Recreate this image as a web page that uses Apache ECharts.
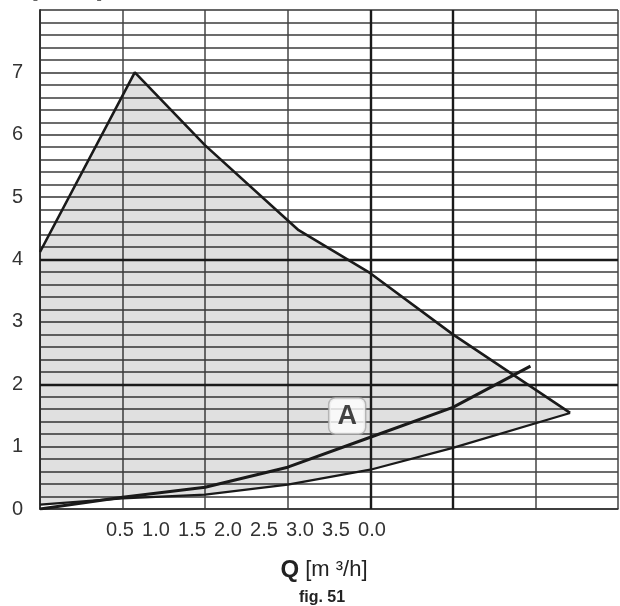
<!DOCTYPE html>
<html>
<head>
<meta charset="utf-8">
<script src="https://cdn.jsdelivr.net/npm/echarts@6/dist/echarts.min.js"></script>
<style>
  html, body { margin: 0; padding: 0; background: #fff; }
  #chart { width: 620px; height: 606px; }
</style>
</head>
<body>
<div id="chart"></div>
<script>
// tick labels (the x row is printed shifted, as in the figure)
var xTickLabels = ['0.5', '1.0', '1.5', '2.0', '2.5', '3.0', '3.5', '0.0'];
var yTickLabels = ['0', '1', '2', '3', '4', '5', '6', '7'];

// envelope of the pump field, Q [m3/h] / H [m H2O]
var upperQ = [0, 0.574, 1.0, 1.566, 2.0, 2.5, 3.21];
var upperH = [4.12, 7.0, 5.83, 4.47, 3.78, 2.8, 1.54];
var lowerQ = [0, 0.5, 1.0, 1.5, 2.0, 2.5, 3.21];
var lowerH = [0.07, 0.17, 0.23, 0.39, 0.63, 0.98, 1.54];

// system curve A
var curveAQ = [0, 0.5, 1.0, 1.5, 2.0, 2.5, 2.97];
var curveAH = [0, 0.19, 0.35, 0.67, 1.15, 1.63, 2.29];
var labelA = [1.86, 1.49];

// heavier grid lines
var boldQ = [2.0, 2.5];
var boldH = [2, 4];

function zip(a, b) {
  return a.map(function (v, i) { return [v, b[i]]; });
}

var upperPts = zip(upperQ, upperH);
var lowerPts = zip(lowerQ, lowerH);
var fieldPts = upperPts.concat(lowerPts.slice(0, -1).reverse());

var chart = echarts.init(document.getElementById('chart'));

var markData = boldQ.map(function (q) { return { xAxis: q }; })
  .concat(boldH.map(function (h) { return { yAxis: h }; }));

chart.setOption({
  animation: false,
  backgroundColor: '#fff',
  textStyle: { fontFamily: 'Liberation Sans, Arial, sans-serif' },
  grid: [
    { left: 40, right: 2, top: 10, bottom: 97 },
    { left: 102, width: 288, top: 10, bottom: 97 }
  ],
  xAxis: [
    {
      type: 'value', gridIndex: 0, min: 0, max: 3.5, interval: 0.5,
      axisLine: { show: true, lineStyle: { color: '#333', width: 1.5 } },
      axisTick: { show: false },
      axisLabel: { show: false },
      splitLine: { show: true, lineStyle: { color: '#444', width: 1.5 } }
    },
    {
      type: 'category', gridIndex: 1, data: xTickLabels,
      axisLine: { show: false },
      axisTick: { show: false },
      splitLine: { show: false },
      axisLabel: { interval: 0, fontSize: 20, color: '#333', margin: 11 }
    }
  ],
  yAxis: [
    {
      type: 'value', gridIndex: 0, min: 0, max: 8, interval: 1,
      axisLine: { show: true, lineStyle: { color: '#333', width: 2 } },
      axisTick: { show: false },
      minorTick: { show: false, splitNumber: 5 },
      minorSplitLine: { show: true, lineStyle: { color: '#3c3c3c', width: 1.5 } },
      splitLine: { show: true, lineStyle: { color: '#333', width: 1.6 } },
      axisLabel: {
        fontSize: 20, color: '#333', margin: 17,
        formatter: function (v) {
          var i = Math.round(v);
          return Math.abs(v - i) < 1e-6 && yTickLabels[i] !== undefined ? yTickLabels[i] : '';
        }
      }
    },
    { type: 'value', gridIndex: 1, show: false, min: 0, max: 8 }
  ],
  series: [
    {
      type: 'custom',
      xAxisIndex: 0, yAxisIndex: 0,
      silent: true,
      data: fieldPts,
      renderItem: function (params, api) {
        if (params.dataIndex !== 0) return null;
        return {
          type: 'polygon',
          shape: { points: fieldPts.map(function (p) { return api.coord(p); }) },
          style: { fill: 'rgba(0,0,0,0.12)' }
        };
      },
      markLine: {
        silent: true,
        symbol: 'none',
        label: { show: false },
        lineStyle: { color: '#1a1a1a', width: 2.4, type: 'solid' },
        data: markData
      }
    },
    {
      type: 'line', data: upperPts, showSymbol: false, silent: true,
      lineStyle: { color: '#1a1a1a', width: 2.6 }
    },
    {
      type: 'line', data: lowerPts, showSymbol: false, silent: true,
      lineStyle: { color: '#1a1a1a', width: 2.2 }
    },
    {
      type: 'line', data: zip(curveAQ, curveAH), showSymbol: false, silent: true,
      lineStyle: { color: '#1a1a1a', width: 3 }
    },
    {
      type: 'scatter', data: [labelA], symbolSize: 1, silent: true,
      itemStyle: { color: 'rgba(0,0,0,0)' },
      label: {
        show: true, position: 'inside', formatter: 'A',
        fontSize: 27, fontWeight: 'bold', color: '#151515',
        backgroundColor: '#fff', borderColor: '#aaa', borderWidth: 1.5,
        borderRadius: 6, padding: [5, 8, 3, 8]
      }
    }
  ],
  graphic: [
    {
      type: 'text', x: 12, y: 1, silent: true,
      style: {
        text: 'H [m H{s|2}O]',
        fill: '#666', fontSize: 20, fontFamily: 'Liberation Sans',
        align: 'left', verticalAlign: 'bottom',
        rich: { s: { fontSize: 13, fill: '#666' } }
      }
    },
    {
      type: 'text', x: 324, y: 570, silent: true,
      style: {
        text: '{q|Q} [m \u00b3/h]',
        fill: '#222', fontSize: 22, fontFamily: 'Liberation Sans',
        align: 'center', verticalAlign: 'middle',
        rich: { q: { fontSize: 24, fontWeight: 'bold', fill: '#222' } }
      }
    },
    {
      type: 'text', x: 322, y: 598, silent: true,
      style: {
        text: 'fig. 51',
        fill: '#222', fontSize: 16, fontWeight: 'bold', fontFamily: 'Liberation Sans',
        align: 'center', verticalAlign: 'middle'
      }
    }
  ]
});
</script>
</body>
</html>
